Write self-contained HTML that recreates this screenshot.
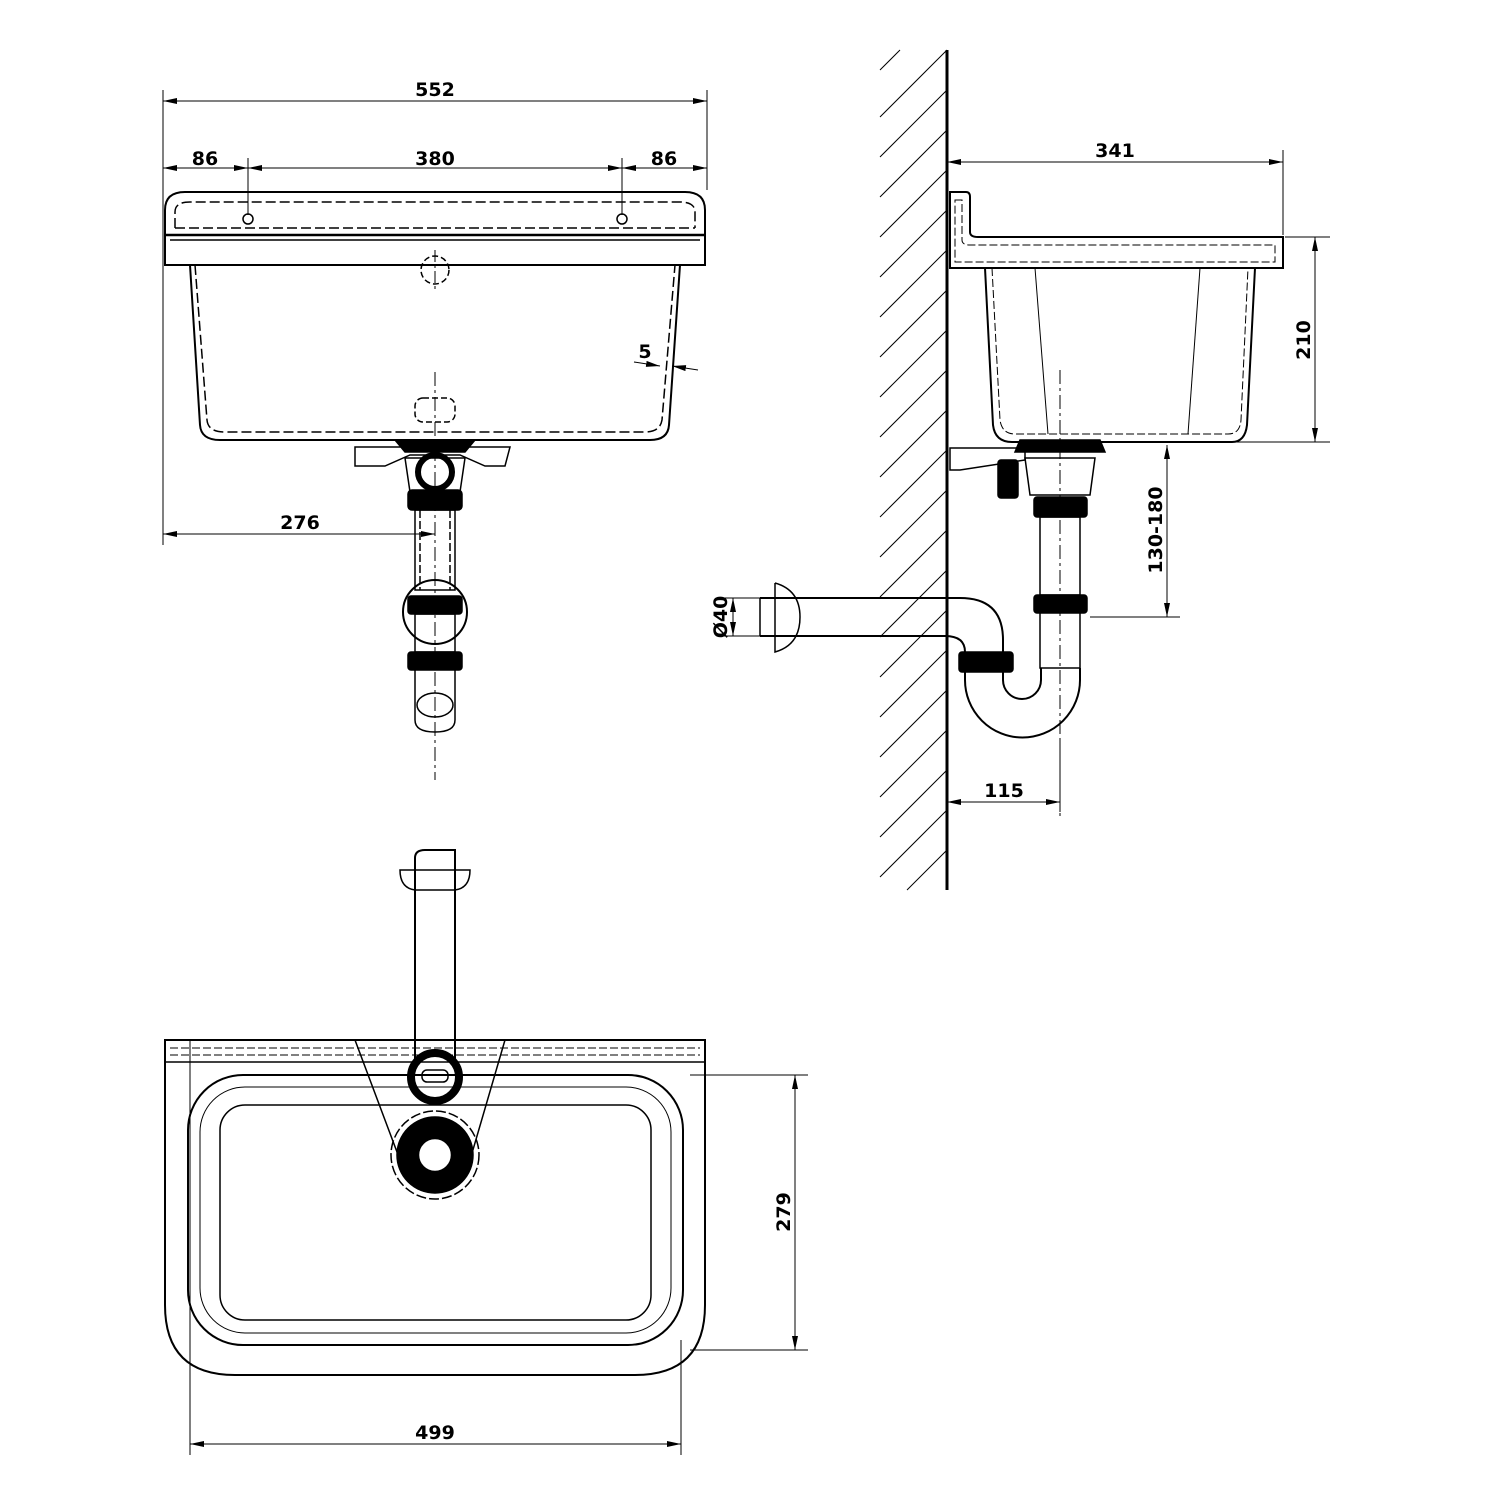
<!DOCTYPE html>
<html><head><meta charset="utf-8"><style>
html,body{margin:0;padding:0;background:#fff}
svg{display:block}
text{font-family:"DejaVu Sans","Liberation Sans",sans-serif;font-weight:bold;font-size:19px;fill:#000}
</style></head><body>
<svg width="1500" height="1500" viewBox="0 0 1500 1500" xmlns="http://www.w3.org/2000/svg">
<defs>
<marker id="a" viewBox="0 0 14 6" refX="14" refY="3" markerWidth="14" markerHeight="6" orient="auto-start-reverse" markerUnits="userSpaceOnUse"><path d="M0,0L14,3L0,6z" fill="#000"/></marker>
</defs>
<g fill="none" stroke="#000" stroke-width="1.5">
<!-- FRONT VIEW dimensions -->
<line x1="163" y1="90" x2="163" y2="545" stroke-width="1"/>
<line x1="707" y1="90" x2="707" y2="190" stroke-width="1"/>
<line x1="248" y1="158" x2="248" y2="215" stroke-width="1"/>
<line x1="622" y1="158" x2="622" y2="215" stroke-width="1"/>
<line x1="163" y1="101" x2="707" y2="101" stroke-width="1" marker-start="url(#a)" marker-end="url(#a)"/>
<line x1="163" y1="168" x2="248" y2="168" stroke-width="1" marker-start="url(#a)" marker-end="url(#a)"/>
<line x1="248" y1="168" x2="622" y2="168" stroke-width="1" marker-start="url(#a)" marker-end="url(#a)"/>
<line x1="622" y1="168" x2="707" y2="168" stroke-width="1" marker-start="url(#a)" marker-end="url(#a)"/>
<line x1="163" y1="534" x2="435" y2="534" stroke-width="1" marker-start="url(#a)" marker-end="url(#a)"/>
<line x1="634" y1="362" x2="660" y2="366" stroke-width="1" marker-end="url(#a)"/>
<line x1="698" y1="370" x2="672" y2="366" stroke-width="1" marker-end="url(#a)"/>
<!-- front sink -->
<path d="M165,265 L165,210 Q165,192 185,192 L685,192 Q705,192 705,210 L705,265 Z" stroke-width="2"/>
<line x1="165" y1="235" x2="705" y2="235" stroke-width="2.5"/>
<line x1="170" y1="240" x2="700" y2="240"/>
<path d="M175,228 L175,212 Q175,202 190,202 L680,202 Q695,202 695,212 L695,228" stroke-dasharray="10,4"/>
<line x1="175" y1="228" x2="695" y2="228" stroke-dasharray="10,4"/>
<path d="M190,265 L200,425 Q201,440 220,440 L650,440 Q668,440 669,425 L680,265" stroke-width="2"/>
<path d="M195,265 L207,420 Q208,432 225,432 L645,432 Q660,432 662,420 L675,265" stroke-dasharray="10,4"/>
<circle cx="248" cy="219" r="5"/><circle cx="622" cy="219" r="5"/>
<circle cx="435" cy="270" r="14" stroke-dasharray="6,3"/>
<line x1="435" y1="250" x2="435" y2="290" stroke-width="1" stroke-dasharray="12,3,3,3"/>
<line x1="435" y1="372" x2="435" y2="780" stroke-width="1" stroke-dasharray="14,4,3,4"/>
<rect x="415" y="398" width="40" height="24" rx="8" stroke-dasharray="6,3"/>
<path d="M395,440 L475,440 L465,452 L405,452 Z" fill="#000"/>
<path d="M355,447 L510,447 L505,466 L485,466 L460,455 L410,455 L385,466 L355,466 Z"/>
<path d="M405,458 L465,458 L460,492 L410,492 Z"/>
<circle cx="435" cy="472" r="17" stroke-width="6"/>
<rect x="408" y="490" width="54" height="20" rx="4" fill="#000"/>
<rect x="415" y="510" width="40" height="80"/>
<line x1="420" y1="510" x2="420" y2="590" stroke-dasharray="8,3"/>
<line x1="450" y1="510" x2="450" y2="590" stroke-dasharray="8,3"/>
<circle cx="435" cy="612" r="32" stroke-width="2"/>
<rect x="408" y="596" width="54" height="18" rx="3" fill="#000"/>
<rect x="415" y="614" width="40" height="38"/>
<rect x="408" y="652" width="54" height="18" rx="3" fill="#000"/>
<path d="M415,670 L415,720 Q415,732 435,732 Q455,732 455,720 L455,670"/>
<ellipse cx="435" cy="705" rx="18" ry="12"/>
<!-- SIDE VIEW -->
<line x1="947" y1="50" x2="947" y2="890" stroke-width="3"/>
<g stroke-width="1">
<line x1="947" y1="50" x2="880" y2="117"/><line x1="947" y1="90" x2="880" y2="157"/>
<line x1="947" y1="130" x2="880" y2="197"/><line x1="947" y1="170" x2="880" y2="237"/>
<line x1="947" y1="210" x2="880" y2="277"/><line x1="947" y1="250" x2="880" y2="317"/>
<line x1="947" y1="290" x2="880" y2="357"/><line x1="947" y1="330" x2="880" y2="397"/>
<line x1="947" y1="370" x2="880" y2="437"/><line x1="947" y1="410" x2="880" y2="477"/>
<line x1="947" y1="450" x2="880" y2="517"/><line x1="947" y1="490" x2="880" y2="557"/>
<line x1="947" y1="530" x2="880" y2="597"/><line x1="947" y1="570" x2="880" y2="637"/>
<line x1="947" y1="610" x2="880" y2="677"/><line x1="947" y1="650" x2="880" y2="717"/>
<line x1="947" y1="690" x2="880" y2="757"/><line x1="947" y1="730" x2="880" y2="797"/>
<line x1="947" y1="770" x2="880" y2="837"/><line x1="947" y1="810" x2="880" y2="877"/>
<line x1="947" y1="850" x2="907" y2="890"/><line x1="900" y1="50" x2="880" y2="70"/>
<line x1="940" y1="50" x2="880" y2="110" stroke="none"/>
<line x1="947" y1="150" x2="1283" y2="150" stroke="none"/>
<line x1="1283" y1="150" x2="1283" y2="235"/>
<line x1="947" y1="162" x2="1283" y2="162" marker-start="url(#a)" marker-end="url(#a)"/>
<line x1="1285" y1="237" x2="1330" y2="237"/>
<line x1="1180" y1="442" x2="1330" y2="442"/>
<line x1="1315" y1="237" x2="1315" y2="442" marker-start="url(#a)" marker-end="url(#a)"/>
<line x1="1167" y1="445" x2="1167" y2="617" marker-start="url(#a)" marker-end="url(#a)"/>
<line x1="1090" y1="617" x2="1180" y2="617"/>
<line x1="1060" y1="740" x2="1060" y2="812"/>
<line x1="947" y1="802" x2="1060" y2="802" marker-start="url(#a)" marker-end="url(#a)"/>
<line x1="720" y1="598" x2="770" y2="598"/><line x1="720" y1="636" x2="770" y2="636"/>
<line x1="733" y1="598" x2="733" y2="636" marker-start="url(#a)" marker-end="url(#a)"/>
</g>
<path d="M950,192 L966,192 Q970,192 970,197 L970,232 Q970,237 978,237 L1283,237 L1283,268 L950,268 Z" stroke-width="2"/>
<path d="M955,200 L962,200 L962,240 Q962,245 970,245 L1275,245 L1275,262 L955,262 Z" stroke-dasharray="8,3" stroke-width="1"/>
<path d="M985,268 L993,425 Q995,442 1012,442 L1232,442 Q1245,442 1247,425 L1255,268" stroke-width="2"/>
<path d="M992,268 L1000,420 Q1002,434 1015,434 L1228,434 Q1240,434 1241,420 L1248,268" stroke-dasharray="8,3" stroke-width="1"/>
<line x1="1035" y1="268" x2="1048" y2="434" stroke-width="1"/>
<line x1="1200" y1="268" x2="1188" y2="434" stroke-width="1"/>
<line x1="1060" y1="370" x2="1060" y2="820" stroke-width="1" stroke-dasharray="14,4,3,4"/>
<path d="M1020,440 L1100,440 L1105,452 L1015,452 Z" fill="#000"/>
<path d="M950,448 L1025,448 L1025,460 L960,470 L950,470 Z"/>
<rect x="998" y="460" width="20" height="38" rx="3" fill="#000"/>
<path d="M1025,458 L1095,458 L1090,495 L1030,495 Z"/>
<rect x="1034" y="497" width="53" height="20" rx="3" fill="#000"/>
<rect x="1040" y="517" width="40" height="78"/>
<rect x="1034" y="595" width="53" height="18" rx="3" fill="#000"/>
<path d="M1040,613 L1040,668 L1080,668 L1080,613"/>
<path d="M760,598 L960,598 Q1003,598 1003,640 L1003,652 M760,636 L945,636 Q965,636 965,652" stroke-width="2"/>
<path d="M760,598 L760,636 M775,583 Q800,590 800,617 Q800,645 775,652 L775,583"/>
<rect x="959" y="652" width="54" height="20" rx="3" fill="#000"/>
<path d="M965,672 L965,680 A57,57 0 0 0 1080,680 L1080,668" stroke-width="2"/>
<path d="M1003,672 L1003,680 A19,19 0 0 0 1041,680 L1041,668" stroke-width="2"/>
<!-- TOP VIEW -->
<path d="M165,1040 L705,1040 L705,1305 Q705,1375 635,1375 L235,1375 Q165,1375 165,1305 Z" stroke-width="2"/>
<line x1="165" y1="1062" x2="705" y2="1062"/><line x1="170" y1="1048" x2="700" y2="1048" stroke-dasharray="8,3" stroke-width="1"/>
<line x1="170" y1="1055" x2="700" y2="1055" stroke-dasharray="8,3" stroke-width="1"/>
<rect x="188" y="1075" width="495" height="270" rx="55" stroke-width="2"/>
<rect x="200" y="1087" width="471" height="246" rx="45" stroke-width="1"/>
<rect x="220" y="1105" width="431" height="215" rx="25"/>
<line x1="190" y1="1040" x2="190" y2="1455" stroke-width="1"/>
<line x1="681" y1="1340" x2="681" y2="1455" stroke-width="1"/>
<line x1="190" y1="1444" x2="681" y2="1444" stroke-width="1" marker-start="url(#a)" marker-end="url(#a)"/>
<line x1="690" y1="1075" x2="808" y2="1075" stroke-width="1"/>
<line x1="690" y1="1350" x2="808" y2="1350" stroke-width="1"/>
<line x1="795" y1="1075" x2="795" y2="1350" stroke-width="1" marker-start="url(#a)" marker-end="url(#a)"/>
<path d="M415,1060 L415,858 Q415,850 425,850 L455,850 L455,1060" stroke-width="2"/>
<path d="M400,870 L470,870 Q470,888 455,890 L415,890 Q400,888 400,870 Z"/>
<path d="M355,1040 L505,1040 L470,1160 L400,1160 Z" stroke-width="1.5"/>
<circle cx="435" cy="1077" r="24" stroke-width="8"/>
<rect x="422" y="1070" width="26" height="12" rx="5"/>
<circle cx="435" cy="1155" r="38" fill="#000"/>
<circle cx="435" cy="1155" r="44" stroke-dasharray="10,3"/>
<circle cx="435" cy="1155" r="15" fill="#fff" stroke="#fff"/>
</g>
<text x="435" y="96" text-anchor="middle">552</text>
<text x="205" y="165" text-anchor="middle">86</text>
<text x="435" y="165" text-anchor="middle">380</text>
<text x="664" y="165" text-anchor="middle">86</text>
<text x="300" y="529" text-anchor="middle">276</text>
<text x="645" y="358" text-anchor="middle">5</text>
<text x="1115" y="157" text-anchor="middle">341</text>
<text x="1004" y="797" text-anchor="middle">115</text>
<text transform="translate(1310,340) rotate(-90)" text-anchor="middle">210</text>
<text transform="translate(1162,530) rotate(-90)" text-anchor="middle">130-180</text>
<text transform="translate(727,617) rotate(-90)" text-anchor="middle">Ø40</text>
<text transform="translate(790,1212) rotate(-90)" text-anchor="middle">279</text>
<text x="435" y="1439" text-anchor="middle">499</text>
</svg>
</body></html>
